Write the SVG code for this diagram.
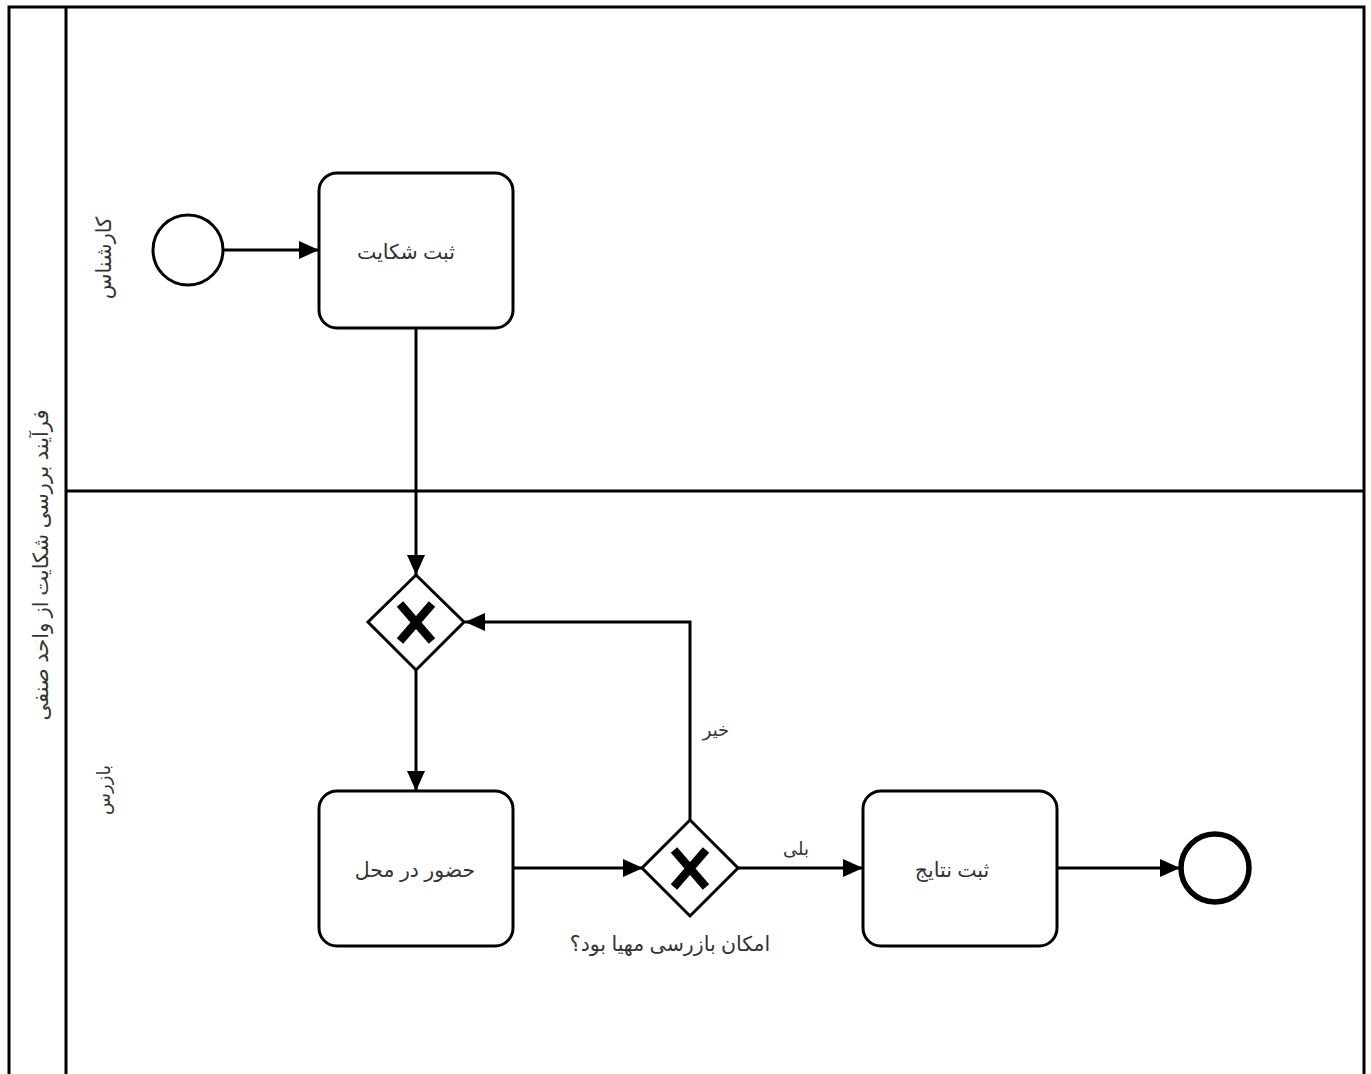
<svg xmlns="http://www.w3.org/2000/svg" width="1371" height="1074" viewBox="0 0 1371 1074">
<defs>
<style>
.ln{fill:none;stroke:#000;stroke-width:3}
.task{fill:#fff;stroke:#000;stroke-width:3}
.gw{fill:#fff;stroke:#000;stroke-width:3}
.lbl{font-family:"Noto Sans","DejaVu Sans",sans-serif;font-size:20.5px;fill:#333;text-anchor:middle;dominant-baseline:central}
.sm{font-family:"Noto Sans","DejaVu Sans",sans-serif;font-size:18px;fill:#333;text-anchor:middle;dominant-baseline:central}
.ttl{font-family:"Noto Sans","DejaVu Sans",sans-serif;font-size:21px;fill:#333;text-anchor:middle;dominant-baseline:central}
.xm{fill:none;stroke:#000;stroke-width:8.5}
</style>
<marker id="arr" viewBox="0 0 20 20" refX="20" refY="10" markerWidth="20" markerHeight="20" markerUnits="userSpaceOnUse" orient="auto">
<path d="M0,1 L20,10 L0,19 Z" fill="#000"/>
</marker>
</defs>
<rect width="1371" height="1074" fill="#fff"/>
<g id="pool">
<path class="ln" d="M9,1080 V7 H1364 V1080"/>
<line class="ln" x1="66" y1="7" x2="66" y2="1080"/>
<line class="ln" x1="66" y1="491" x2="1364" y2="491"/>
<text class="ttl" transform="translate(40,565) rotate(-90)">فرآیند بررسی شکایت از  واحد صنفی</text>
</g>
<g id="lane1"><text class="ttl" transform="translate(103,258) rotate(-90)">کارشناس</text></g>
<g id="lane2"><text class="sm" transform="translate(103,790) rotate(-90)">بازرس</text></g>
<g id="connectors">
<line class="ln" x1="223" y1="250" x2="319" y2="250" marker-end="url(#arr)"/>
<line class="ln" x1="416" y1="328" x2="416" y2="575" marker-end="url(#arr)"/>
<line class="ln" x1="416" y1="670" x2="416" y2="791" marker-end="url(#arr)"/>
<line class="ln" x1="513" y1="868" x2="643" y2="868" marker-end="url(#arr)"/>
<polyline class="ln" points="690,820 690,622 465,622" marker-end="url(#arr)"/>
<line class="ln" x1="738" y1="868" x2="863" y2="868" marker-end="url(#arr)"/>
<line class="ln" x1="1057" y1="868" x2="1180" y2="868" marker-end="url(#arr)"/>
<text class="sm" x="716" y="729">خیر</text>
<text class="sm" x="796" y="848">بلی</text>
</g>
<g id="start"><circle cx="188" cy="250" r="35" fill="#fff" stroke="#000" stroke-width="3"/></g>
<g id="task1"><rect class="task" x="319" y="173" width="194" height="155" rx="18"/><text class="lbl" x="406" y="251">ثبت شکایت</text></g>
<g id="gw1"><polygon class="gw" points="416,575 464,622 416,670 368,622"/><path class="xm" d="M400,604 L432,641 M432,604 L400,641"/></g>
<g id="task2"><rect class="task" x="319" y="791" width="194" height="155" rx="18"/><text class="lbl" x="415" y="869">حضور در محل</text></g>
<g id="gw2"><polygon class="gw" points="690,820 738,868 690,916 642,868"/><path class="xm" d="M674,850 L706,887 M706,850 L674,887"/><text class="lbl" x="670" y="943">امکان بازرسی مهیا بود؟</text></g>
<g id="task3"><rect class="task" x="863" y="791" width="194" height="155" rx="18"/><text class="lbl" x="952" y="869">ثبت نتایج</text></g>
<g id="end"><circle cx="1215" cy="868" r="34" fill="#fff" stroke="#000" stroke-width="5.5"/></g>
</svg>
